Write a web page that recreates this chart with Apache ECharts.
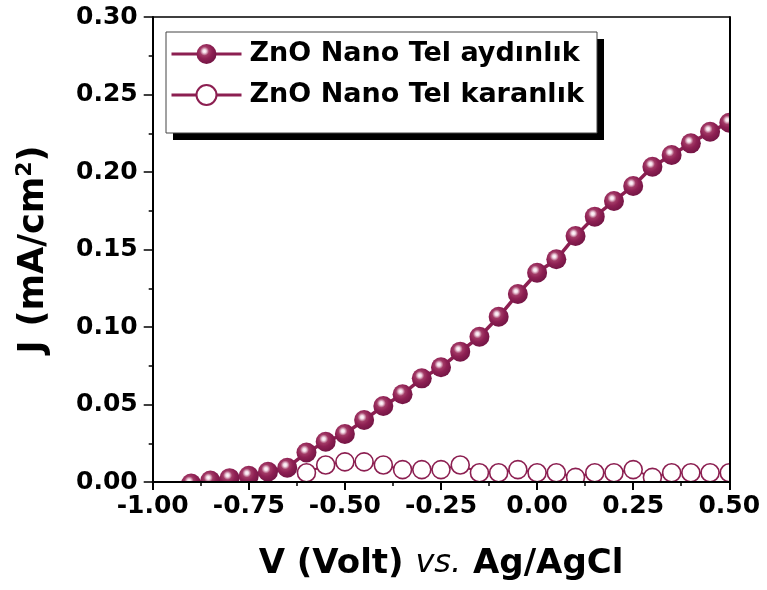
<!DOCTYPE html>
<html>
<head>
<meta charset="utf-8">
<script src="https://cdn.jsdelivr.net/npm/echarts@6/dist/echarts.min.js"></script>
<style>
html,body{margin:0;padding:0;background:#fff;}
#chart{width:767px;height:590px;}
</style>
</head>
<body>
<div id="chart"></div>
<script>
// ---- data ----
const voltage = [-0.90,-0.85,-0.80,-0.75,-0.70,-0.65,-0.60,-0.55,-0.50,-0.45,-0.40,-0.35,-0.30,-0.25,-0.20,-0.15,-0.10,-0.05,0.00,0.05,0.10,0.15,0.20,0.25,0.30,0.35,0.40,0.45,0.50];
const lightJ = [-0.001,0.001,0.0025,0.004,0.0066,0.0092,0.019,0.026,0.031,0.040,0.049,0.0566,0.0669,0.074,0.0841,0.0937,0.1066,0.1213,0.135,0.1437,0.1587,0.1712,0.1813,0.191,0.2034,0.211,0.2185,0.226,0.2318];
const darkJ = [null,null,null,null,null,null,0.006,0.011,0.013,0.013,0.011,0.008,0.008,0.008,0.011,0.006,0.006,0.008,0.006,0.006,0.003,0.006,0.006,0.008,0.003,0.006,0.006,0.006,0.006];
const seriesNames = ['ZnO Nano Tel aydınlık','ZnO Nano Tel karanlık'];
const xTicks = {min:-1.00, max:0.50, interval:0.25};
const yTicks = {min:0.00, max:0.30, interval:0.05};

const W = 767, H = 590;
const G = {left:152.7, right:37.7, top:17, bottom:108};
const LEG = {x:166, y:32, w:431, h:101, shadow:7};
const maroon = '#8c1f51';
const FONT = '"DejaVu Sans", sans-serif';

const sphere = {
  type:'radial', x:0.4, y:0.36, r:0.62,
  colorStops:[
    {offset:0, color:'#ffffff'},
    {offset:0.14, color:'#f3dbe6'},
    {offset:0.36, color:'#a23a66'},
    {offset:0.62, color:'#8e2053'},
    {offset:1, color:'#761646'}
  ]
};

const toPairs = (xs, ys) => xs.map((x,i) => [x, ys[i]]);
const fmt = v => v.toFixed(2);

const chart = echarts.init(document.getElementById('chart'), null, {renderer:'canvas'});
const bottomY = H - G.bottom;
const rightX = W - G.right;

chart.setOption({
  backgroundColor:'#ffffff',
  animation:false,
  grid:{left:G.left, right:G.right, top:G.top, bottom:G.bottom, containLabel:false},
  legend:{
    left:LEG.x, top:LEG.y,
    orient:'vertical',
    padding:[8.5,10,10,4],
    itemWidth:70, itemHeight:25, itemGap:14,
    lineStyle:{width:3},
    textStyle:{fontFamily:FONT, fontWeight:'bold', fontSize:27, color:'#000', padding:[0,0,0,3]},
    data:seriesNames,
    z:6
  },
  xAxis:[{
    type:'value', min:xTicks.min, max:xTicks.max, interval:xTicks.interval,
    z:10,
    axisLine:{show:true, onZero:false, lineStyle:{color:'#000', width:2}},
    axisTick:{show:true, inside:false, length:8, lineStyle:{color:'#000', width:2}},
    minorTick:{show:true, splitNumber:2, length:4, lineStyle:{color:'#000', width:1.5}},
    splitLine:{show:false},
    axisLabel:{formatter:fmt, fontFamily:FONT, fontWeight:'bold', fontSize:25, color:'#000', margin:12},
    name:'{b|V (Volt) }{i|vs.}{b| Ag/AgCl}',
    nameLocation:'middle', nameGap:65,
    nameTextStyle:{rich:{
      b:{fontFamily:FONT, fontWeight:'bold', fontSize:34, color:'#000'},
      i:{fontFamily:FONT, fontStyle:'italic', fontWeight:'normal', fontSize:32, color:'#000'}
    }}
  },{
    type:'value', position:'top', min:xTicks.min, max:xTicks.max, interval:xTicks.interval,
    z:10,
    axisLine:{show:true, onZero:false, lineStyle:{color:'#000', width:1.5}},
    axisTick:{show:false}, axisLabel:{show:false}, splitLine:{show:false}
  }],
  yAxis:[{
    type:'value', min:yTicks.min, max:yTicks.max, interval:yTicks.interval,
    z:10,
    axisLine:{show:true, onZero:false, lineStyle:{color:'#000', width:2}},
    axisTick:{show:true, inside:false, length:9, lineStyle:{color:'#000', width:1.5}},
    minorTick:{show:true, splitNumber:2, length:4, lineStyle:{color:'#000', width:1.5}},
    splitLine:{show:false},
    axisLabel:{formatter:fmt, fontFamily:FONT, fontWeight:'bold', fontSize:25, color:'#000', margin:15},
    name:'{j|J}{b|(mA/cm}{s|2}{b|)}',
    nameLocation:'middle', nameGap:100, nameRotate:90,
    nameTextStyle:{rich:{
      j:{fontFamily:FONT, fontWeight:'bold', fontSize:35, color:'#000', padding:[0,14,0,0]},
      b:{fontFamily:FONT, fontWeight:'bold', fontSize:35, color:'#000'},
      s:{fontFamily:FONT, fontWeight:'bold', fontSize:22, color:'#000', verticalAlign:'top', padding:[0,0,16,0]}
    }}
  },{
    type:'value', position:'right', min:yTicks.min, max:yTicks.max, interval:yTicks.interval,
    z:10,
    axisLine:{show:true, onZero:false, lineStyle:{color:'#000', width:2}},
    axisTick:{show:false}, axisLabel:{show:false}, splitLine:{show:false}
  }],
  graphic:{elements:[
    {type:'rect', silent:true, z:5, shape:{x:G.left-12, y:bottomY+1, width:W-G.left+12, height:14}, style:{fill:'#fff'}},
    {type:'rect', silent:true, z:5, shape:{x:rightX+1, y:0, width:W-rightX, height:bottomY+16}, style:{fill:'#fff'}},
    {type:'rect', silent:true, z:4, shape:{x:LEG.x+LEG.shadow, y:LEG.y+LEG.shadow, width:LEG.w, height:LEG.h}, style:{fill:'#000'}},
    {type:'rect', silent:true, z:4, shape:{x:LEG.x, y:LEG.y, width:LEG.w, height:LEG.h}, style:{fill:'#fff', stroke:'#444', lineWidth:1}}
  ]},
  series:[{
    name:seriesNames[0], type:'line', clip:false, z:3,
    data:toPairs(voltage, lightJ),
    symbol:'circle', symbolSize:20,
    lineStyle:{color:maroon, width:3.5},
    itemStyle:{color:sphere, borderWidth:0},
    emphasis:{disabled:true}
  },{
    name:seriesNames[1], type:'line', clip:false, z:2,
    data:toPairs(voltage, darkJ),
    symbol:'circle', symbolSize:18,
    lineStyle:{color:maroon, width:2},
    itemStyle:{color:'#fff', borderColor:maroon, borderWidth:1.6},
    emphasis:{disabled:true}
  }]
});
</script>
</body>
</html>
